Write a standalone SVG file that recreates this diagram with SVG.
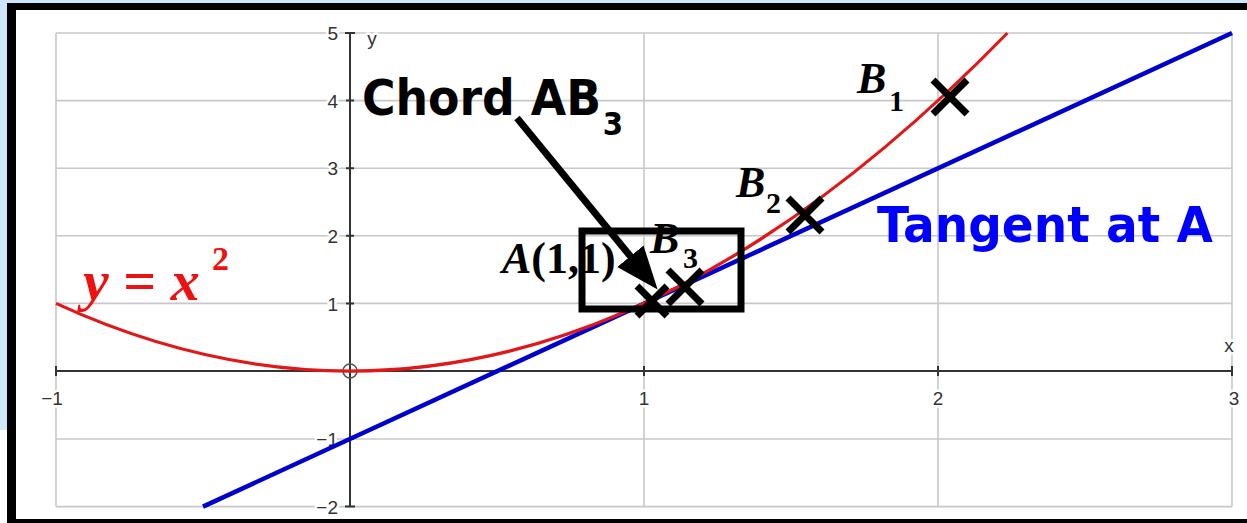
<svg xmlns="http://www.w3.org/2000/svg" width="1247" height="523" viewBox="0 0 1247 523">
<defs>
<style>
.grid{stroke:#c8c8c8;stroke-width:1.6;fill:none}
.axis{stroke:#333;stroke-width:2;fill:none}
.tick{font-family:"Liberation Sans",Arial,sans-serif;font-size:19px;fill:#333;stroke:#fff;stroke-width:5px;paint-order:stroke;stroke-linejoin:round}
.cross{stroke:#000;stroke-width:7;fill:none}
.lbl{font-family:"Liberation Serif","Times New Roman",serif;font-weight:bold;fill:#000}
.comic{font-family:"DejaVu Sans","Liberation Sans",sans-serif;font-weight:bold}
</style>
<marker id="ah" markerUnits="userSpaceOnUse" markerWidth="46" markerHeight="36" refX="1" refY="17" orient="auto">
<path d="M0,0 L43,17 L0,34 z" fill="#000"/>
</marker>
</defs>
<rect x="0" y="0" width="1247" height="523" fill="#fff"/>
<g id="frame">
<rect x="0" y="0" width="1247" height="3" fill="#cfe6fb"/>
<rect x="0" y="0" width="7" height="430" fill="#cfe6fb"/>
<rect x="7" y="3" width="1240" height="7" fill="#000"/>
<rect x="7" y="3" width="9" height="520" fill="#000"/>
<rect x="7" y="519" width="1240" height="4" fill="#000"/>
</g>
<g id="grid">
<path class="grid" d="M56,33H1232M56,100.6H1232M56,168.2H1232M56,235.8H1232M56,303.4H1232M56,439H1232M56,506.6H1232M56,33V506.6M644,33V506.6M938,33V506.6M1232,33V506.6"/>
</g>
<g id="axes">
<path class="axis" d="M56,371H1232M350,33V506.6"/>
<path class="axis" d="M345,33H355M346,100.6H354M346,168.2H354M346,235.8H354M346,303.4H354M346,439H354M345,506.6H355M56,366V376M644,366V376M938,366V376M1232,366V376"/>
<circle cx="350" cy="371" r="7" fill="none" stroke="#555" stroke-width="1.6"/>
</g>
<g id="tick-labels">
<text class="tick" x="338" y="40" text-anchor="end">5</text>
<text class="tick" x="338" y="108" text-anchor="end">4</text>
<text class="tick" x="338" y="175" text-anchor="end">3</text>
<text class="tick" x="338" y="243" text-anchor="end">2</text>
<text class="tick" x="338" y="311" text-anchor="end">1</text>
<text class="tick" x="338" y="446" text-anchor="end">−1</text>
<text class="tick" x="338" y="514" text-anchor="end">−2</text>
<text class="tick" x="52" y="405" text-anchor="middle">−1</text>
<text class="tick" x="644" y="405" text-anchor="middle">1</text>
<text class="tick" x="938" y="405" text-anchor="middle">2</text>
<text class="tick" x="1234" y="405" text-anchor="middle">3</text>
<text class="tick" x="1229" y="352" text-anchor="middle">x</text>
<text class="tick" x="372" y="45" text-anchor="middle">y</text>
</g>
<g id="tangent">
<line x1="203" y1="506.6" x2="1232" y2="33" stroke="#0000cc" stroke-width="4.5"/>
</g>
<g id="parabola">
<path d="M56,303.4 Q531.7,522.2 1007.4,33" fill="none" stroke="#e01818" stroke-width="3.2"/>
</g>
<g id="box">
<rect x="582" y="231" width="159" height="78" fill="none" stroke="#000" stroke-width="7"/>
</g>
<g id="points">
<path id="pA" class="cross" d="M637,286L667,316M637,316L667,286"/>
<path id="pB3" class="cross" d="M668,270L702,304M668,304L702,270"/>
<path id="pB2" class="cross" d="M788,198L822,232M788,232L822,198"/>
<path id="pB1" class="cross" d="M933,80L967,114M933,114L967,80"/>
</g>
<g id="labels">
<text class="lbl" x="502" y="273" font-size="44"><tspan font-style="italic">A</tspan>(1,1)</text>
<text class="lbl" x="650" y="253" font-size="44"><tspan font-style="italic">B</tspan><tspan x="683" y="268" font-size="30">3</tspan></text>
<text class="lbl" x="736" y="197" font-size="44"><tspan font-style="italic">B</tspan><tspan x="766" y="213" font-size="30">2</tspan></text>
<text class="lbl" x="857" y="93" font-size="44"><tspan font-style="italic">B</tspan><tspan x="889" y="111" font-size="30">1</tspan></text>
<text class="lbl" x="83" y="300" font-size="58" style="fill:#ee1111"><tspan font-style="italic">y</tspan> = <tspan font-style="italic">x</tspan><tspan x="212" y="270" font-size="34">2</tspan></text>
<text class="comic" transform="translate(362,115) scale(0.915,1)" font-size="50" fill="#000">Chord AB<tspan dy="20" dx="2" font-size="32">3</tspan></text>
<text class="comic" x="877" y="242" font-size="50" textLength="336" lengthAdjust="spacingAndGlyphs" fill="#0000ff">Tangent at A</text>
</g>
<g id="connectors">
<line x1="517" y1="118" x2="631" y2="257" stroke="#000" stroke-width="7" marker-end="url(#ah)"/>
</g>
</svg>
